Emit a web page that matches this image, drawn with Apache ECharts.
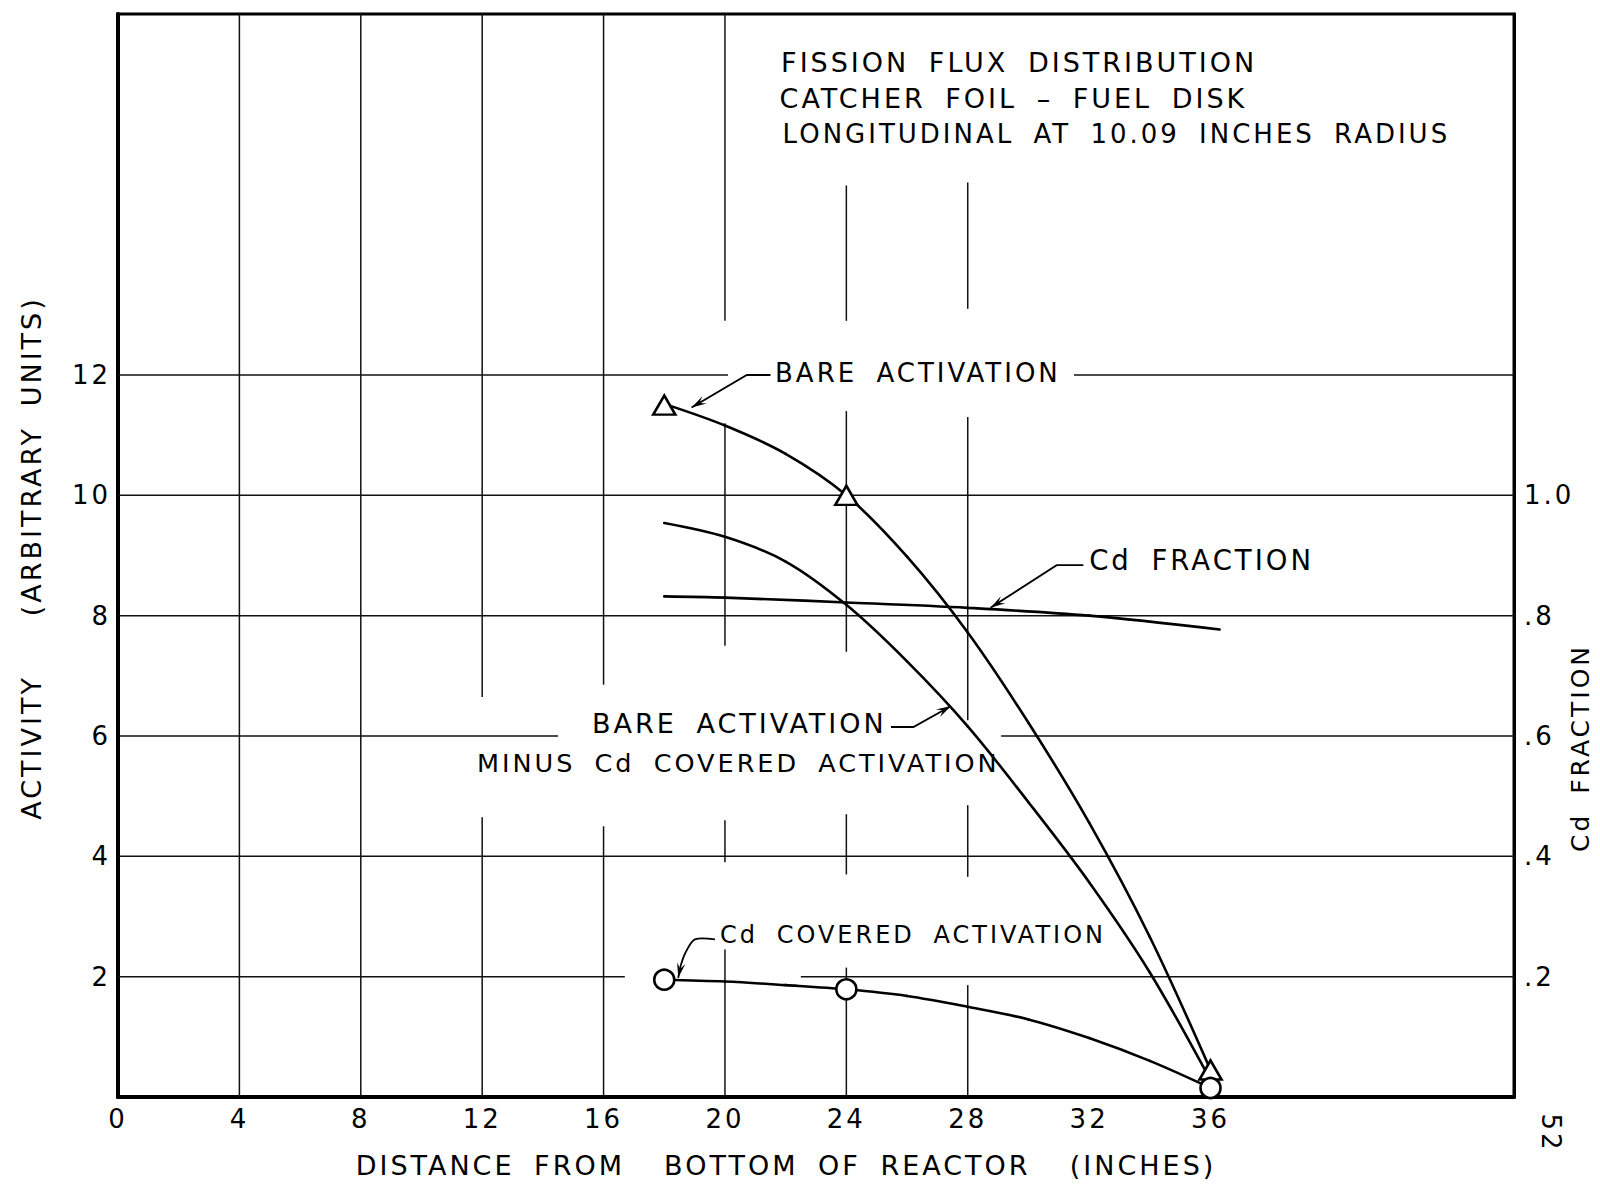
<!DOCTYPE html>
<html>
<head>
<meta charset="utf-8">
<script src="https://cdn.jsdelivr.net/npm/echarts@6/dist/echarts.min.js"></script>
<style>
  html, body { margin: 0; padding: 0; background: #fff; }
  #chart { width: 1600px; height: 1189px; }
  /* drafting-style lettering: wide tracking, generous word gaps */
  #chart svg text { letter-spacing: 3px; word-spacing: 8px; white-space: pre; }
</style>
</head>
<body>
<div id="chart"></div>
<script>
// Measured stations (inches from bottom of reactor)
const distance = [18, 24, 36];
const bareActivation = [11.5, 10.0, 0.45];
const cdCoveredActivation = [1.95, 1.79, 0.15];

// Faired curves through the measurements
const curveX = [18, 20, 22, 24, 26, 28, 30, 32, 34, 36];
const bareCurve = [11.52, 11.16, 10.69, 10.0, 8.98, 7.72, 6.22, 4.56, 2.66, 0.45];
const bareMinusCdCurve = [9.54, 9.31, 8.9, 8.18, 7.24, 6.16, 4.9, 3.57, 2.07, 0.28];
const cdCoveredCurve = [1.95, 1.92, 1.86, 1.79, 1.68, 1.5, 1.29, 0.98, 0.6, 0.15];

// Cd fraction (right-hand scale)
const fractionX = [18, 20, 24, 28, 32, 36.3];
const cdFraction = [0.832, 0.83, 0.822, 0.813, 0.8, 0.777];

// Ruled grid, interrupted where the lettering sits
const verticalRules = [   // [x, yFrom, yTo]
  [4, 0, 18], [8, 0, 18],
  [12, 0, 4.65], [12, 6.65, 18],
  [16, 0, 4.5], [16, 6.85, 18],
  [20, 0, 2.45], [20, 3.9, 4.6], [20, 7.5, 11.2], [20, 12.9, 18],
  [24, 0, 2.15], [24, 3.7, 4.7], [24, 7.4, 11.4], [24, 12.9, 15.15],
  [28, 0, 1.86], [28, 3.66, 4.85], [28, 6.26, 11.3], [28, 13.1, 15.2]
];
const horizontalRules = [ // [y, xFrom, xTo]
  [2, 0, 16.7], [2, 22.5, 46],
  [4, 0, 46],
  [6, 0, 14.5], [6, 29.1, 46],
  [8, 0, 46], [10, 0, 46],
  [12, 0, 20.1], [12, 31.5, 46]
];

const FONT = '"DejaVu Sans", "Liberation Sans", sans-serif';
const INK = '#000';

const ruleSegments = verticalRules.map(r => [r[0], r[1], r[0], r[2]])
  .concat(horizontalRules.map(r => [r[1], r[0], r[2], r[0]]));

const pairs = (xs, ys) => xs.map((x, i) => [x, ys[i]]);

const chart = echarts.init(document.getElementById('chart'), null, { renderer: 'svg' });

// Faired curve drawn as cubic Beziers in pixel space (chord-length weighted
// tangents), every point placed through the series' own axes.
function splineSeries(name, pts, yAxisIndex) {
  return {
    name, type: 'custom', z: 3, silent: true,
    xAxisIndex: 0, yAxisIndex: yAxisIndex || 0,
    data: pts,
    encode: { x: 0, y: 1 },
    renderItem: (params, api) => {
      const i = params.dataIndex, n = pts.length;
      if (i >= n - 1) return null;
      const q = pts.map(p => api.coord(p));
      const d = [];
      for (let k = 0; k < n - 1; k++) d.push(Math.hypot(q[k + 1][0] - q[k][0], q[k + 1][1] - q[k][1]));
      const m = [];
      for (let k = 1; k < n - 1; k++) {
        const s = d[k - 1] + d[k];
        m[k] = [(q[k + 1][0] - q[k - 1][0]) / s, (q[k + 1][1] - q[k - 1][1]) / s];
      }
      const endTan = (a, b, len, inner) => [
        1.5 * (b[0] - a[0]) / len - 0.5 * inner[0],
        1.5 * (b[1] - a[1]) / len - 0.5 * inner[1]
      ];
      m[0] = endTan(q[0], q[1], d[0], m[1]);
      m[n - 1] = endTan(q[n - 2], q[n - 1], d[n - 2], m[n - 2]);
      const a = q[i], b = q[i + 1], h = d[i] / 3;
      return {
        type: 'bezierCurve',
        shape: {
          x1: a[0], y1: a[1], x2: b[0], y2: b[1],
          cpx1: a[0] + m[i][0] * h, cpy1: a[1] + m[i][1] * h,
          cpx2: b[0] - m[i + 1][0] * h, cpy2: b[1] - m[i + 1][1] * h
        },
        style: { stroke: INK, lineWidth: 2.6, fill: null, lineCap: 'round' }
      };
    }
  };
}

chart.setOption({
  animation: false,
  backgroundColor: '#fff',
  textStyle: { fontFamily: FONT, color: INK },
  grid: {
    left: 118, right: 86, top: 14, bottom: 92,
    show: true, borderColor: INK, borderWidth: 3, backgroundColor: 'transparent'
  },
  xAxis: {
    type: 'value', min: 0, max: 46, interval: 4,
    axisLine: { show: true, onZero: false, lineStyle: { color: INK, width: 4 } },
    axisTick: { show: false },
    splitLine: { show: false },
    axisLabel: {
      margin: 9, color: INK, fontSize: 26, fontFamily: FONT,
      showMaxLabel: false,
      formatter: v => (v <= 36 ? String(v) : '')
    }
  },
  yAxis: [
    {
      type: 'value', min: 0, max: 18, interval: 2, position: 'left',
      axisLine: { show: true, onZero: false, lineStyle: { color: INK, width: 4 } },
      axisTick: { show: false },
      splitLine: { show: false },
      axisLabel: {
        margin: 7, color: INK, fontSize: 26, fontFamily: FONT,
        formatter: v => (v >= 2 && v <= 12 ? String(v) : '')
      }
    },
    {
      type: 'value', min: 0, max: 1.8, interval: 0.2, position: 'right',
      axisLine: { show: true, onZero: false, lineStyle: { color: INK, width: 3 } },
      axisTick: { show: false },
      splitLine: { show: false },
      axisLabel: {
        margin: 10, color: INK, fontSize: 26, fontFamily: FONT,
        formatter: v => {
          const t = Math.round(v * 10);
          if (t < 2 || t > 10) return '';
          return t === 10 ? '1.0' : '.' + t;
        }
      }
    }
  ],
  series: [
    {
      name: 'rules', type: 'custom', silent: true, z: 1,
      xAxisIndex: 0, yAxisIndex: 0,
      data: ruleSegments,
      encode: { x: [0, 2], y: [1, 3] },
      renderItem: (params, api) => {
        const a = api.coord([api.value(0), api.value(1)]);
        const b = api.coord([api.value(2), api.value(3)]);
        return {
          type: 'line',
          shape: { x1: a[0], y1: a[1], x2: b[0], y2: b[1] },
          style: { stroke: '#111', lineWidth: 1.5 }
        };
      }
    },
    splineSeries('Bare activation', pairs(curveX, bareCurve)),
    splineSeries('Bare minus Cd covered activation', pairs(curveX, bareMinusCdCurve)),
    splineSeries('Cd covered activation', pairs(curveX, cdCoveredCurve)),
    splineSeries('Cd fraction', pairs(fractionX, cdFraction), 1),
    {
      name: 'Bare points', type: 'scatter', z: 5,
      symbol: 'triangle', symbolSize: [22, 19],
      itemStyle: { color: '#fff', borderColor: INK, borderWidth: 2.6, opacity: 1 },
      data: pairs(distance, bareActivation)
    },
    {
      name: 'Cd covered points', type: 'scatter', z: 5,
      symbol: 'circle', symbolSize: 20,
      itemStyle: { color: '#fff', borderColor: INK, borderWidth: 2.6, opacity: 1 },
      data: pairs(distance, cdCoveredActivation)
    }
  ]
});

// Lettering and leader arrows, anchored in data units
function buildAnnotations() {
  const P = (x, y) => chart.convertToPixel({ xAxisIndex: 0, yAxisIndex: 0 }, [x, y]);
  const els = [];

  const label = (t, px, py, opt) => {
    opt = opt || {};
    els.push({
      type: 'text', x: px, y: py, rotation: opt.rot || 0, silent: true, z: 10,
      style: {
        text: t, fill: INK, fontSize: opt.size || 26, fontFamily: FONT,
        textAlign: opt.align || 'left', align: opt.align || 'left',
        textVerticalAlign: 'middle', verticalAlign: 'middle'
      }
    });
  };
  const dataLabel = (t, x, y, opt) => { const p = P(x, y); label(t, p[0], p[1], opt); };

  const leader = (pts, smooth) => {
    const px = pts.map(p => P(p[0], p[1]));
    els.push({
      type: 'polyline', silent: true, z: 10,
      shape: { points: px, smooth: smooth || 0 },
      style: { stroke: INK, lineWidth: 1.8, fill: null }
    });
    const tip = px[px.length - 1], from = px[px.length - 2];
    const dx = tip[0] - from[0], dy = tip[1] - from[1];
    const len = Math.hypot(dx, dy), ux = dx / len, uy = dy / len, nx = -uy, ny = ux;
    const L = 15, W = 4.2;
    els.push({
      type: 'polygon', silent: true, z: 10,
      shape: { points: [
        [tip[0], tip[1]],
        [tip[0] - L * ux + W * nx, tip[1] - L * uy + W * ny],
        [tip[0] - 0.6 * L * ux, tip[1] - 0.6 * L * uy],
        [tip[0] - L * ux - W * nx, tip[1] - L * uy - W * ny]
      ] },
      style: { fill: INK }
    });
  };

  // title block
  dataLabel('FISSION FLUX DISTRIBUTION', 21.85, 17.2, { size: 27 });
  dataLabel('CATCHER FOIL \u2013 FUEL DISK', 21.8, 16.6, { size: 27 });
  dataLabel('LONGITUDINAL AT 10.09 INCHES RADIUS', 21.9, 16.0, { size: 26 });

  // curve labels
  dataLabel('BARE ACTIVATION', 21.65, 12.03);
  leader([[21.5, 12.0], [20.72, 12.0], [18.9, 11.46]]);

  dataLabel('Cd FRACTION', 32.0, 8.92, { size: 27.5 });
  leader([[31.81, 8.84], [30.93, 8.84], [28.75, 8.13]]);

  dataLabel('BARE ACTIVATION', 15.62, 6.2, { size: 27 });
  leader([[25.47, 6.15], [26.21, 6.15], [27.45, 6.5]]);
  dataLabel('MINUS Cd COVERED ACTIVATION', 11.83, 5.55, { size: 25.5 });

  dataLabel('Cd COVERED ACTIVATION', 19.84, 2.69, { size: 24 });
  leader([[19.67, 2.62], [19.01, 2.62], [18.72, 2.42], [18.55, 2.2], [18.46, 1.98]], 0.3);

  // axis titles and sheet number
  label('ACTIVITY   (ARBITRARY UNITS)', 31, 558, { align: 'center', rot: Math.PI / 2, size: 27 });
  label('DISTANCE FROM  BOTTOM OF REACTOR  (INCHES)', 786, 1165, { align: 'center', size: 27 });
  label('Cd FRACTION', 1580, 748, { align: 'center', rot: Math.PI / 2, size: 25 });
  label('52', 1551, 1133, { align: 'center', rot: -Math.PI / 2 });

  chart.setOption({ graphic: { elements: els } });
}
buildAnnotations();
</script>
</body>
</html>
